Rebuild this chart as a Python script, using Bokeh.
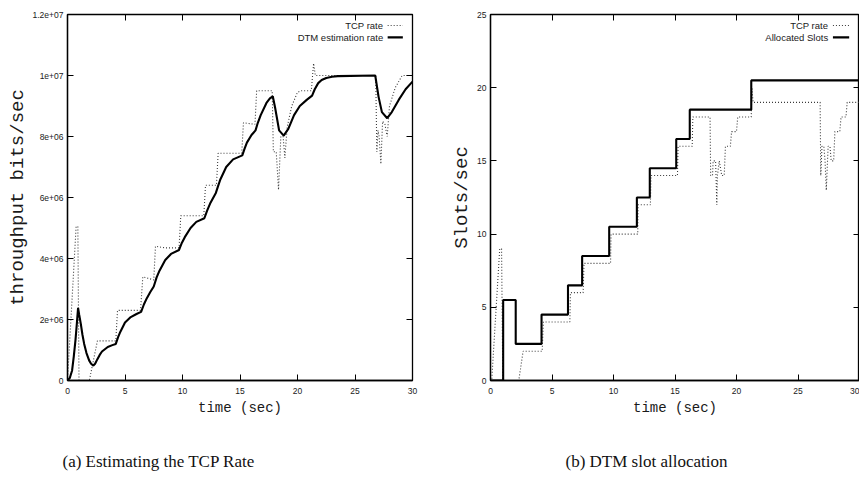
from bokeh.plotting import figure
from bokeh.layouts import row, column
from bokeh.models import LinearAxis, FixedTicker, Label, Range1d
from bokeh.core.properties import value
from bokeh.embed import file_html
from bokeh.resources import INLINE

# ---------------- data: (a) Estimating the TCP Rate ----------------
tcp_a_t = [0, 0.75, 0.9, 1.0, 1.9, 2.6, 4.2, 4.35, 6.35, 6.55, 7.0, 7.5, 7.65, 8.5, 9.7, 9.85,
           11.85, 12.0, 12.95, 13.1, 15.15, 15.3, 16.3, 16.45, 17.8, 17.9, 18.15, 18.35, 18.55,
           18.75, 18.9, 19.1, 19.5, 20.0, 20.3, 21.2, 21.4, 21.55, 26.8, 26.9, 27.0, 27.1, 27.25,
           27.4, 27.6, 27.8, 28.0, 28.5, 29.1, 30]
tcp_a_v = [0, 5.05e6, 5.05e6, 0, 0, 1.3e6, 1.3e6, 2.3e6, 2.3e6, 3.4e6, 3.35e6, 3.3e6, 4.4e6, 4.35e6,
           4.35e6, 5.4e6, 5.4e6, 6.4e6, 6.4e6, 7.45e6, 7.45e6, 8.45e6, 8.4e6, 9.5e6, 9.5e6, 7.5e6,
           7.5e6, 6.25e6, 8.0e6, 8.0e6, 7.3e6, 8.3e6, 9.0e6, 9.45e6, 9.5e6, 9.5e6, 10.4e6, 10.0e6,
           10.0e6, 7.5e6, 8.2e6, 8.0e6, 7.1e6, 8.5e6, 8.4e6, 8.0e6, 9.0e6, 9.6e6, 10.0e6, 10.0e6]

dtm_t = [0, 0.2, 0.4, 0.55, 0.7, 0.82, 0.92, 1.02, 1.15, 1.3, 1.45, 1.65, 1.88, 2.05, 2.25, 2.4,
         2.6, 2.8, 3.0, 3.5, 3.9, 4.2, 4.4, 4.6, 5.0, 5.5, 6.0, 6.4, 6.65, 6.9, 7.2, 7.5, 7.75,
         8.0, 8.5, 9.0, 9.7, 9.95, 10.2, 10.7, 11.2, 11.9, 12.15, 12.4, 12.9, 13.1, 13.3, 13.8,
         14.4, 15.2, 15.4, 15.6, 16.0, 16.35, 16.55, 16.8, 17.3, 17.6, 17.85, 18.05, 18.2, 18.4,
         18.8, 19.2, 19.7, 20.2, 20.8, 21.27, 21.5, 21.8, 22.1, 22.5, 23.0, 23.5, 26.76, 27.05,
         27.34, 27.8, 28.2, 28.8, 29.4, 30]
dtm_v = [0, 0.08e6, 0.33e6, 0.8e6, 1.35e6, 1.9e6, 2.38e6, 2.15e6, 1.87e6, 1.5e6, 1.2e6, 0.9e6,
         0.66e6, 0.55e6, 0.49e6, 0.55e6, 0.7e6, 0.84e6, 0.95e6, 1.1e6, 1.16e6, 1.2e6, 1.42e6,
         1.6e6, 1.9e6, 2.08e6, 2.18e6, 2.25e6, 2.5e6, 2.7e6, 2.9e6, 3.08e6, 3.38e6, 3.6e6, 3.95e6,
         4.15e6, 4.28e6, 4.52e6, 4.7e6, 5.0e6, 5.2e6, 5.32e6, 5.58e6, 5.8e6, 6.15e6, 6.38e6,
         6.6e6, 7.0e6, 7.25e6, 7.38e6, 7.6e6, 7.8e6, 8.05e6, 8.2e6, 8.45e6, 8.7e6, 9.1e6, 9.25e6,
         9.32e6, 8.95e6, 8.63e6, 8.2e6, 8.03e6, 8.25e6, 8.7e6, 9.0e6, 9.2e6, 9.34e6, 9.55e6,
         9.75e6, 9.85e6, 9.92e6, 9.96e6, 9.98e6, 10.0e6, 9.3e6, 8.8e6, 8.6e6, 8.8e6, 9.2e6,
         9.55e6, 9.8e6]

# ---------------- data: (b) DTM slot allocation ----------------
tcp_b_t = [0, 0.1, 0.75, 0.9, 1.0, 2.3, 2.65, 4.2, 4.3, 6.45, 6.5, 7.53, 7.6, 9.76, 9.8, 11.97,
           12.0, 13.0, 13.05, 15.2, 15.25, 16.4, 16.45, 17.85, 17.9, 18.05, 18.1, 18.3, 18.4,
           18.45, 18.6, 18.8, 19.0, 19.1, 19.5, 19.6, 20.0, 20.1, 21.2, 21.25, 21.35, 26.8, 26.85,
           26.95, 27.1, 27.2, 27.3, 27.45, 27.6, 27.7, 27.9, 28.0, 28.4, 28.5, 28.9, 29.0, 30]
tcp_b_v = [0, 0, 9, 9, 0, 0, 2, 2, 4, 4, 6, 6, 8, 8, 10, 10, 12, 12, 14, 14, 16, 16, 18, 18, 14,
           14, 15, 15, 12, 14, 15, 14, 14, 16, 16, 17, 17, 18, 18, 20, 19, 19, 14, 16, 16, 15, 13,
           16, 16, 15, 15, 17, 17, 18, 18, 19, 19]

slot_t = [0, 1.03, 2.05, 4.15, 6.3, 7.45, 9.65, 11.9, 12.95, 15.1, 16.2, 21.2, 30]
slot_v = [0, 5.5, 2.5, 4.5, 6.5, 8.5, 10.5, 12.5, 14.5, 16.5, 18.5, 20.5, 20.5]

# ---------------- ticks / labels / captions ----------------
x_ticks = [0, 5, 10, 15, 20, 25, 30]
a_y_ticks = [0, 2000000, 4000000, 6000000, 8000000, 10000000, 12000000]
a_y_labels = ["0", "2e+06", "4e+06", "6e+06", "8e+06", "1e+07", "1.2e+07"]
b_y_ticks = [0, 5, 10, 15, 20, 25]
captions = ["(a) Estimating the TCP Rate", "(b) DTM slot allocation"]

TICK_FONT = "Liberation Sans"
MONO = "Liberation Mono"
SERIF = "Liberation Serif"
DOT = "#3a3a3a"
TXT = "#1a1a1a"
W_A, W_B, H_TOP, H_CAP = 430, 429, 439, 40


def mirror_axis(ticks):
    return LinearAxis(ticker=FixedTicker(ticks=ticks), major_label_text_font_size="0px",
                      major_label_text_color=None, major_label_standoff=0,
                      axis_line_color=None, major_tick_in=6, major_tick_out=0,
                      minor_tick_line_color=None, major_tick_line_color="black")


def style(p, xticks, yticks, ylabel):
    p.xgrid.visible = False
    p.ygrid.visible = False
    p.outline_line_color = "black"
    p.outline_line_width = 1.3
    p.background_fill_color = "white"
    p.border_fill_color = "white"
    for ax in (p.xaxis[0], p.yaxis[0]):
        ax.major_tick_in = 6
        ax.major_tick_out = 0
        ax.minor_tick_line_color = None
        ax.axis_line_color = "black"
        ax.axis_line_width = 1.3
        ax.major_tick_line_color = "black"
        ax.major_label_text_font = TICK_FONT
        ax.major_label_text_font_size = "8.5px"
        ax.major_label_text_color = TXT
        ax.axis_label_text_font = MONO
        ax.axis_label_text_font_style = "normal"
        ax.axis_label_text_color = TXT
    p.xaxis[0].ticker = FixedTicker(ticks=xticks)
    p.yaxis[0].ticker = FixedTicker(ticks=yticks)
    p.xaxis[0].axis_label = "time (sec)"
    p.xaxis[0].axis_label_text_font_size = "14px"
    p.xaxis[0].major_label_standoff = 7
    p.xaxis[0].axis_label_standoff = 3
    p.yaxis[0].axis_label = ylabel
    p.yaxis[0].axis_label_text_font_size = "19px"
    p.yaxis[0].major_label_standoff = 4
    p.yaxis[0].axis_label_standoff = 1
    p.add_layout(mirror_axis(xticks), "above")
    p.add_layout(mirror_axis(yticks), "right")


def legend(p, xr, yr, labels, dashes, widths, colors):
    x0, x1 = xr
    y0, y1 = yr
    span_x = x1 - x0
    span_y = y1 - y0
    for i, (lab, dash, w, c) in enumerate(zip(labels, dashes, widths, colors)):
        yy = y1 - span_y * (0.030 + 0.0325 * i)
        p.add_layout(Label(x=x1 - span_x * 0.085, y=yy, text=lab, text_align="right",
                           text_baseline="middle", text_font=TICK_FONT, text_font_size="9.5px",
                           text_color=TXT))
        p.line([x1 - span_x * 0.072, x1 - span_x * 0.028], [yy, yy], line_color=c,
               line_width=w, line_dash=dash)


# ---------------- figure (a) ----------------
pa = figure(width=W_A, height=H_TOP, x_range=Range1d(0, 30), y_range=Range1d(0, 12000000),
            output_backend="svg", toolbar_location=None, min_border_left=67,
            min_border_right=18, min_border_top=14, min_border_bottom=59)
pa.line(tcp_a_t, tcp_a_v, line_color=DOT, line_width=1.1, line_dash="1 2")
pa.line(dtm_t, dtm_v, line_color="black", line_width=2.1)
style(pa, x_ticks, a_y_ticks, "throughput bits/sec")
pa.yaxis[0].major_label_overrides = dict(zip(a_y_ticks, a_y_labels))
legend(pa, (0, 30), (0, 12000000), ["TCP rate", "DTM estimation rate"], ["1 2", "solid"],
       [1.1, 2.1], [DOT, "black"])

# ---------------- figure (b) ----------------
pb = figure(width=W_B, height=H_TOP, x_range=Range1d(0, 30), y_range=Range1d(0, 25),
            output_backend="svg", toolbar_location=None, min_border_left=60,
            min_border_right=0, min_border_top=14, min_border_bottom=59)
pb.line(tcp_b_t, tcp_b_v, line_color=DOT, line_width=1.1, line_dash="1 2")
pb.step(slot_t, slot_v, mode="after", line_color="black", line_width=2.1)
style(pb, x_ticks, b_y_ticks, "Slots/sec")
legend(pb, (0, 30), (0, 25), ["TCP rate", "Allocated Slots"], ["1 2", "solid"],
       [1.1, 2.1], [DOT, "black"])

# ---------------- caption strip (pixel space) ----------------
pc = figure(width=W_A + W_B, height=H_CAP, x_range=Range1d(0, W_A + W_B),
            y_range=Range1d(0, H_CAP), output_backend="svg", toolbar_location=None,
            x_axis_type=None, y_axis_type=None, min_border=0)
pc.outline_line_color = None
pc.xgrid.visible = False
pc.ygrid.visible = False
pc.text(x=[62, 565], y=[18, 18], text=captions, text_font=value(SERIF),
        text_font_size=value("17px"), text_baseline="middle", text_align="left",
        text_color="#111111")

layout = column(row(pa, pb), pc)
open("out.html", "w").write(file_html(layout, INLINE))
